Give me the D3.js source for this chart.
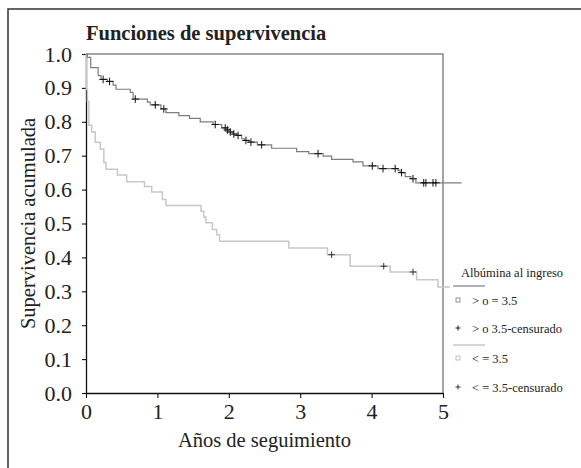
<!DOCTYPE html>
<html>
<head>
<meta charset="utf-8">
<script src="https://cdn.jsdelivr.net/npm/d3@7"></script>
<style>
  body { margin: 0; background: #fff; }
  svg { display: block; }
  svg text { font-family: "Liberation Serif", "Times New Roman", Times, "DejaVu Serif", serif !important; fill: #222; }
</style>
</head>
<body>
<div id="chart"></div>
<script>
// Kaplan-Meier step curves: [time in years, cumulative survival]
var highAlbSteps = [
  [0.00, 1.000], [0.02, 0.990], [0.066, 0.960], [0.17, 0.936], [0.21, 0.925], [0.30, 0.919],
  [0.38, 0.908], [0.42, 0.896], [0.62, 0.887], [0.66, 0.867], [0.86, 0.858], [0.90, 0.850],
  [1.05, 0.838], [1.12, 0.827], [1.30, 0.818], [1.45, 0.810], [1.60, 0.800], [1.78, 0.792],
  [1.90, 0.782], [1.96, 0.776], [2.00, 0.770], [2.06, 0.764], [2.11, 0.760], [2.18, 0.750],
  [2.22, 0.745], [2.28, 0.740], [2.40, 0.732], [2.60, 0.722], [2.95, 0.712], [3.12, 0.706],
  [3.32, 0.699], [3.44, 0.689], [3.74, 0.682], [3.88, 0.670], [4.09, 0.662], [4.37, 0.657],
  [4.40, 0.650], [4.47, 0.638], [4.55, 0.632], [4.62, 0.620], [5.26, 0.620]
];
var highAlbCensored = [0.24, 0.33, 0.69, 0.97, 1.09, 1.81, 1.95, 1.98, 2.02, 2.07, 2.13,
  2.24, 2.31, 2.46, 3.25, 4.01, 4.16, 4.33, 4.42, 4.58, 4.73, 4.76, 4.86, 4.90];

var lowAlbSteps = [
  [0.00, 1.000], [0.005, 0.895], [0.02, 0.860], [0.04, 0.790], [0.08, 0.770], [0.13, 0.740],
  [0.20, 0.720], [0.25, 0.680], [0.28, 0.660], [0.44, 0.643], [0.57, 0.623], [0.82, 0.609],
  [0.92, 0.593], [1.07, 0.571], [1.12, 0.553], [1.61, 0.536], [1.65, 0.519], [1.68, 0.502],
  [1.77, 0.482], [1.83, 0.467], [1.87, 0.448], [2.84, 0.428], [3.38, 0.408], [3.70, 0.374],
  [4.26, 0.357], [4.63, 0.334], [4.93, 0.313], [5.10, 0.313]
];
var lowAlbCensored = [3.44, 4.17, 4.58];

var xTicks = [0, 1, 2, 3, 4, 5];
var yTicks = [0, 0.1, 0.2, 0.3, 0.4, 0.5, 0.6, 0.7, 0.8, 0.9, 1.0];

var legendTitle = "Albúmina al ingreso";
var legendLabels = ["> o = 3.5", "> o 3.5-censurado", "< = 3.5", "< = 3.5-censurado"];

// Canvas
var svgWidth = 581;
var svgHeight = 468;

var plot = { left: 86, right: 443, top: 54, bottom: 393 };

var svg = d3.select("#chart")
  .append("svg")
  .attr("width", svgWidth)
  .attr("height", svgHeight);

// outer frame (left and top edges only visible)
svg.append("path")
  .attr("d", "M8," + svgHeight + " L8,9 L" + svgWidth + ",9")
  .attr("fill", "none")
  .attr("stroke", "#333")
  .attr("stroke-width", 1.5);

// Scales
var x = d3.scaleLinear().domain([0, 5]).range([plot.left, plot.right]);
var y = d3.scaleLinear().domain([0, 1]).range([plot.bottom, plot.top]);

// plot frame: top and right in grey
svg.append("path")
  .attr("d", "M" + plot.left + "," + plot.top + " L" + plot.right + "," + plot.top + " L" + plot.right + "," + plot.bottom)
  .attr("fill", "none")
  .attr("stroke", "#888")
  .attr("stroke-width", 1.5);

// Axes
var leftAxis = d3.axisLeft(y)
  .tickValues(yTicks)
  .tickFormat(d3.format(".1f"))
  .tickSizeInner(4)
  .tickSizeOuter(0)
  .tickPadding(10);

var bottomAxis = d3.axisBottom(x)
  .tickValues(xTicks)
  .tickFormat(d3.format("d"))
  .tickSizeInner(5)
  .tickSizeOuter(0)
  .tickPadding(5);

var gy = svg.append("g")
  .attr("transform", "translate(" + plot.left + ",0)")
  .call(leftAxis);

var gx = svg.append("g")
  .attr("transform", "translate(0," + plot.bottom + ")")
  .call(bottomAxis);

[gx, gy].forEach(function (g) {
  g.attr("font-family", null);
  g.select(".domain").attr("stroke", "#111").attr("stroke-width", 1.3);
  g.selectAll(".tick line").attr("stroke", "#111").attr("stroke-width", 1.1);
  g.selectAll(".tick text")
    .attr("font-size", "22px")
    .attr("fill", "#222");
});

// Curves
var stepLine = d3.line()
  .x(function (d) { return x(d[0]); })
  .y(function (d) { return y(d[1]); })
  .curve(d3.curveStepAfter);

svg.append("path")
  .datum(lowAlbSteps)
  .attr("d", stepLine)
  .attr("fill", "none")
  .attr("stroke", "#c8c8c8")
  .attr("stroke-width", 1.5);

svg.append("path")
  .datum(highAlbSteps)
  .attr("d", stepLine)
  .attr("fill", "none")
  .attr("stroke", "#7d7d7d")
  .attr("stroke-width", 1.2);

// survival value of a step curve at time t
function survAt(steps, t) {
  var s = steps[0][1];
  steps.forEach(function (p) { if (p[0] <= t) s = p[1]; });
  return s;
}

function plusPath(cx, cy, r) {
  return "M" + (cx - r) + "," + cy + " H" + (cx + r) + " M" + cx + "," + (cy - r) + " V" + (cy + r);
}

svg.selectAll(".censHigh")
  .data(highAlbCensored)
  .enter()
  .append("path")
  .attr("class", "censHigh")
  .attr("d", function (t) { return plusPath(x(t), y(survAt(highAlbSteps, t)), 3.8); })
  .attr("stroke", "#111")
  .attr("stroke-width", 1);

svg.selectAll(".censLow")
  .data(lowAlbCensored)
  .enter()
  .append("path")
  .attr("class", "censLow")
  .attr("d", function (t) { return plusPath(x(t), y(survAt(lowAlbSteps, t)), 3.3); })
  .attr("stroke", "#333")
  .attr("stroke-width", 1);

// Title and axis labels
svg.append("text")
  .attr("x", plot.left)
  .attr("y", 40)
  .attr("font-size", "20.5px")
  .attr("font-weight", "bold")
  .attr("fill", "#111")
  .text("Funciones de supervivencia");

svg.append("text")
  .attr("transform", "translate(35," + ((plot.top + plot.bottom) / 2) + ") rotate(-90)")
  .attr("text-anchor", "middle")
  .attr("font-size", "20.5px")
  .text("Supervivencia acumulada");

svg.append("text")
  .attr("x", (plot.left + plot.right) / 2)
  .attr("y", 447)
  .attr("text-anchor", "middle")
  .attr("font-size", "20.5px")
  .text("Años de seguimiento");

// Legend
var lg = svg.append("g").attr("font-size", "12.5px");

lg.append("text").attr("x", 461).attr("y", 277).text(legendTitle);

lg.append("line").attr("x1", 453).attr("x2", 485).attr("y1", 286).attr("y2", 286)
  .attr("stroke", "#7d7d7d").attr("stroke-width", 1.2);
lg.append("line").attr("x1", 453).attr("x2", 485).attr("y1", 345).attr("y2", 345)
  .attr("stroke", "#c8c8c8").attr("stroke-width", 1.5);

var legendY = [300, 328, 358, 387];
var markerColor = ["#888", "#222", "#bbb", "#333"];

legendLabels.forEach(function (lab, i) {
  if (i % 2 === 0) {
    lg.append("rect")
      .attr("x", 456).attr("y", legendY[i] - 2)
      .attr("width", 4).attr("height", 4)
      .attr("fill", "none")
      .attr("stroke", markerColor[i])
      .attr("stroke-width", 0.9);
  } else {
    lg.append("path")
      .attr("d", plusPath(458, legendY[i], 2.5))
      .attr("stroke", markerColor[i])
      .attr("stroke-width", 1);
  }
  lg.append("text")
    .attr("x", 472)
    .attr("y", legendY[i] + 4.5)
    .text(lab);
});
</script>
</body>
</html>
